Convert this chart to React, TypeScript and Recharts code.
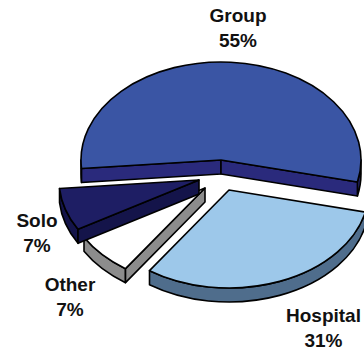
import { Pie, PieChart } from "recharts";

const names = ["Group", "Hospital", "Other", "Solo"];
const shares = [55, 31, 7, 7];

const topColors = ["#3A55A4", "#9DC8EA", "#FFFFFF", "#1E1E64"];
const wallColors = ["#2A2A7C", "#4F6D8C", "#8C8C8C", "#14144A"];
// slice displacement from the pie centre, px
const offsets = [
  [0, 0],
  [8, 30],
  [-16, 28],
  [-22, 20],
];
// centre x and first baseline of each two line label
const labelSpots = [
  [238, 22],
  [323.5, 322],
  [70, 291],
  [37, 227],
];

const TILT = 0.7;
const DEPTH = 14;
const RAD = Math.PI / 180;

const tableData = names.map((name, i) => ({ name, value: shares[i], idx: i }));

function pt(cx: number, cy: number, r: number, deg: number, drop = 0) {
  return [cx + r * Math.cos(deg * RAD), cy - r * TILT * Math.sin(deg * RAD) + drop];
}

function arcTo(p: number[], r: number, span: number, sweep: number) {
  return `A${r} ${r * TILT} 0 ${Math.abs(span) > 180 ? 1 : 0} ${sweep} ${p[0]} ${p[1]}`;
}

function Slice(props: any) {
  const { cx, cy, outerRadius: r, startAngle: a0, endAngle: a1 } = props;
  const idx = props.payload?.idx ?? props.idx;
  const x = cx + offsets[idx][0];
  const y = cy + offsets[idx][1];
  const wall = wallColors[idx];
  const line = { stroke: "#000", strokeWidth: 1.6, strokeLinejoin: "round" as const };

  const s = pt(x, y, r, a0);
  const e = pt(x, y, r, a1);
  const walls: string[] = [];

  // rim, only where the arc faces the viewer
  [-360, 0, 360].forEach((k) => {
    const hi = Math.min(a0, k);
    const lo = Math.max(a1, k - 180);
    if (hi <= lo) return;
    const p = pt(x, y, r, hi);
    const q = pt(x, y, r, lo);
    const qd = pt(x, y, r, lo, DEPTH);
    const pd = pt(x, y, r, hi, DEPTH);
    walls.push(
      `M${p[0]} ${p[1]}${arcTo(q, r, hi - lo, 1)}L${qd[0]} ${qd[1]}${arcTo(pd, r, hi - lo, 0)}Z`
    );
  });

  // cut faces
  const cut = (p: number[]) =>
    `M${x} ${y}L${p[0]} ${p[1]}L${p[0]} ${p[1] + DEPTH}L${x} ${y + DEPTH}Z`;
  if (Math.cos(a0 * RAD) < 0) walls.push(cut(s));
  if (Math.cos(a1 * RAD) > 0) walls.push(cut(e));

  return (
    <g>
      {walls.map((d, i) => (
        <path key={i} d={d} fill={wall} {...line} />
      ))}
      <path
        d={`M${x} ${y}L${s[0]} ${s[1]}${arcTo(e, r, a0 - a1, 1)}Z`}
        fill={topColors[idx]}
        {...line}
      />
    </g>
  );
}

function SliceLabel(props: any) {
  const idx = props.payload?.idx ?? props.idx;
  const [x, y] = labelSpots[idx];
  return (
    <text
      x={x}
      y={y}
      textAnchor="middle"
      fontFamily="Liberation Sans"
      fontWeight="bold"
      fontSize={19}
      fill="#111"
    >
      <tspan x={x} y={y}>
        {names[idx]}
      </tspan>
      <tspan x={x} y={y + 25}>
        {shares[idx]}%
      </tspan>
    </text>
  );
}

export default function App() {
  return (
    <div style={{ position: "absolute", left: 0, top: 0, width: 364, height: 351, background: "#fff" }}>
      <PieChart width={364} height={351} margin={{ top: 0, right: 0, bottom: 0, left: 0 }}>
        <Pie
          data={tableData}
          dataKey="value"
          nameKey="name"
          cx={221}
          cy={160}
          innerRadius={0}
          outerRadius={140}
          startAngle={185}
          endAngle={-175}
          paddingAngle={0}
          shape={Slice}
          label={SliceLabel}
          labelLine={false}
          isAnimationActive={false}
        />
      </PieChart>
    </div>
  );
}
